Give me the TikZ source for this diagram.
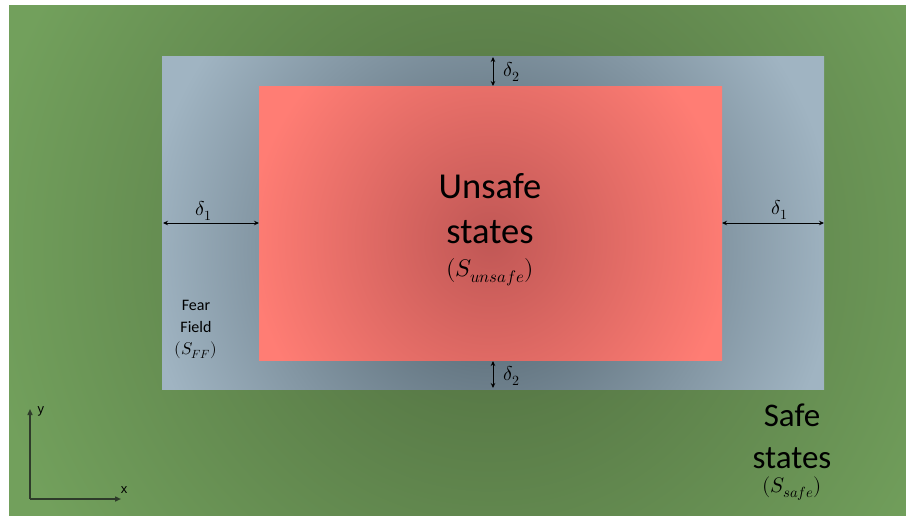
\documentclass[tikz,border=0pt]{standalone}
\usepackage{unicode-math}
\setmainfont{Carlito}
\setmathfont{Latin Modern Math}
\newfontfamily\axisfont{Liberation Sans}
\usetikzlibrary{arrows.meta}

% region colours (inner = centre of the radial fade, outer = rim)
\definecolor{grnIn}{HTML}{4F6C3F}
\definecolor{grnOut}{HTML}{72A05C}
\definecolor{gryIn}{HTML}{4A5B66}
\definecolor{gryOut}{HTML}{A0B4C2}
\definecolor{redIn}{HTML}{C05755}
\definecolor{redOut}{HTML}{FF7D74}
\definecolor{axisCol}{HTML}{2E3B2A}

% radial fades with explicit radii (in bp, drawn at natural size)
\pgfdeclareradialshading{greenfade}{\pgfpoint{0bp}{0bp}}%
  {color(0bp)=(grnIn); color(510bp)=(grnOut); color(600bp)=(grnOut)}
\pgfdeclareradialshading{grayfade}{\pgfpoint{0bp}{0bp}}%
  {color(0bp)=(gryIn); color(345bp)=(gryOut); color(400bp)=(gryOut)}
\pgfdeclareradialshading{redfade}{\pgfpoint{0bp}{0bp}}%
  {color(0bp)=(redIn); color(240bp)=(redOut); color(300bp)=(redOut)}

\tikzset{
  fade/.style={inner sep=0pt, outer sep=0pt},
  dimarrow/.style={draw=black, line width=0.9pt, {Stealth[length=5pt,width=4.5pt]}-{Stealth[length=5pt,width=4.5pt]}},
  axisline/.style={draw=axisCol, line width=1.4pt, -{Triangle[length=6pt,width=5pt]}},
  unsafetext/.style={font=\fontsize{36.5}{45}\selectfont, inner sep=0pt, align=center},
  safetext/.style={font=\fontsize{33}{42}\selectfont, inner sep=0pt, align=center},
  fftext/.style={font=\fontsize{16}{22}\selectfont, inner sep=0pt, align=center},
  deltalabel/.style={font=\fontsize{20}{22}\selectfont, inner sep=0pt},
  axislabel/.style={font=\axisfont\fontsize{13}{15}\selectfont, inner sep=0pt}
}

\begin{document}
\begin{tikzpicture}[x=1pt, y=-1pt]
  \useasboundingbox (0,0) rectangle (906,515);
  \fill[white] (0,0) rectangle (906,515);

  % safe states: the whole field
  \begin{scope}
    \clip (9,5) rectangle (906,515);
    \node[fade] (safeFade) at (490,250) {\pgfuseshading{greenfade}};
  \end{scope}

  % fear field band
  \begin{scope}
    \clip (162,56) rectangle (824,389);
    \node[fade] (ffFade) at (490,250) {\pgfuseshading{grayfade}};
  \end{scope}

  % unsafe core
  \begin{scope}
    \clip (259,86) rectangle (722,360);
    \node[fade] (unsafeFade) at (490,240) {\pgfuseshading{redfade}};
  \end{scope}

  % boundary points for the margin arrows
  \coordinate (ffL) at (163,223);
  \coordinate (unL) at (259,223);
  \coordinate (unR) at (722,223);
  \coordinate (ffR) at (824,223);
  \coordinate (ffT) at (493,57);
  \coordinate (unT) at (493,86);
  \coordinate (unB) at (493,361);
  \coordinate (ffB) at (493,388);

  \draw[dimarrow] (ffL) -- (unL);
  \draw[dimarrow] (unR) -- (ffR);
  \draw[dimarrow] (ffT) -- (unT);
  \draw[dimarrow] (unB) -- (ffB);

  \node[deltalabel] (d1L) at (204,211) {$\delta_1$};
  \node[deltalabel] (d1R) at (780,210) {$\delta_1$};
  \node[deltalabel] (d2T) at (512,72) {$\delta_2$};
  \node[deltalabel] (d2B) at (512,376) {$\delta_2$};

  % region names
  \node[unsafetext] (unsafe) at (490,209) {Unsafe\\states};
  \node[font=\fontsize{24}{26}\selectfont, inner sep=0pt] (unsafeSym) at (490,272) {$(S_{unsafe})$};

  \node[fftext] (fear) at (196,316) {Fear\\Field};
  \node[font=\fontsize{17}{19}\selectfont, inner sep=0pt] (fearSym) at (196,350) {$(S_{FF})$};

  \node[safetext] (safe) at (792,436) {Safe\\states};
  \node[font=\fontsize{21}{23}\selectfont, inner sep=0pt] (safeSym) at (792,489) {$(S_{safe})$};

  % axes
  \coordinate (org) at (30,499);
  \coordinate (yEnd) at (30,409);
  \coordinate (xEnd) at (121,499);
  \draw[axisline] (org) -- (yEnd);
  \draw[axisline] (org) -- (xEnd);
  \node[axislabel] (yLbl) at (41,411) {y};
  \node[axislabel] (xLbl) at (124,490) {x};
\end{tikzpicture}
\end{document}
